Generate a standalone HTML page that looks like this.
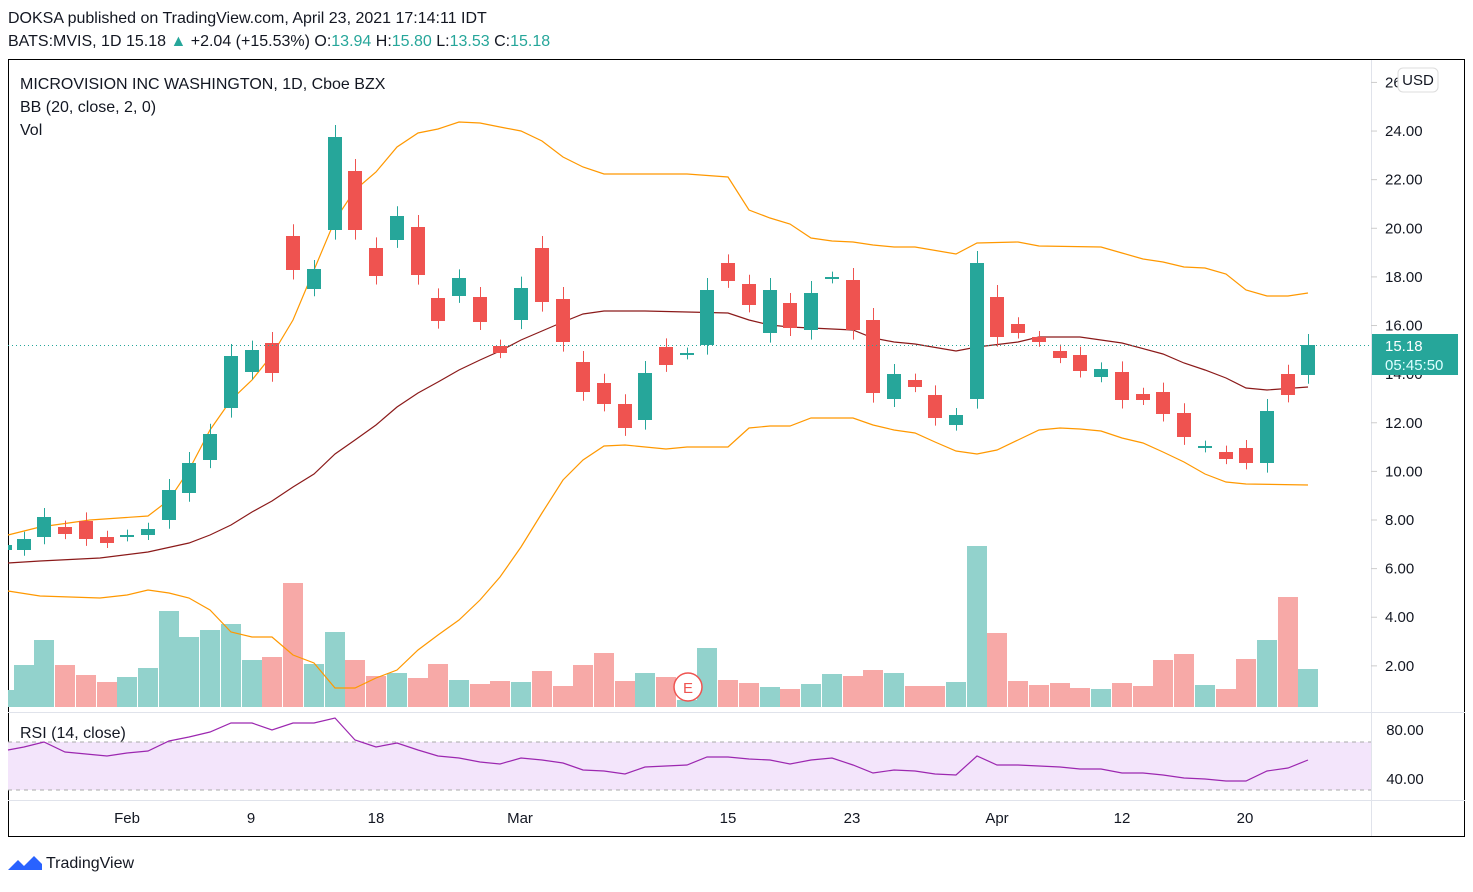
<!DOCTYPE html><html><head><meta charset="utf-8"><style>
body{margin:0;background:#fff;width:1473px;height:887px;overflow:hidden;font-family:"Liberation Sans",sans-serif}
</style></head><body>
<svg id="s" width="1473" height="887" xmlns="http://www.w3.org/2000/svg" font-family="Liberation Sans, sans-serif">
<text x="8" y="23" font-size="16" fill="#131722">DOKSA published on TradingView.com, April 23, 2021 17:14:11 IDT</text>
<text x="8" y="46" font-size="16" fill="#131722">BATS:MVIS, 1D  15.18 <tspan fill="#26a69a">▲</tspan> +2.04 (+15.53%) O:<tspan fill="#26a69a">13.94</tspan> H:<tspan fill="#26a69a">15.80</tspan> L:<tspan fill="#26a69a">13.53</tspan> C:<tspan fill="#26a69a">15.18</tspan></text>
<rect x="8.5" y="59.5" width="1456" height="777" fill="none" stroke="#000"/>
<line x1="1371.5" y1="60" x2="1371.5" y2="836" stroke="#e0e3eb"/>
<line x1="8" y1="712.5" x2="1465" y2="712.5" stroke="#e0e3eb"/>
<line x1="8" y1="800.5" x2="1465" y2="800.5" stroke="#e0e3eb"/>
<rect x="8" y="742" width="1363" height="48" fill="#f3e5fb"/>
<line x1="8" y1="742" x2="1371" y2="742" stroke="#aaa" stroke-dasharray="4,4"/>
<line x1="8" y1="790" x2="1371" y2="790" stroke="#aaa" stroke-dasharray="4,4"/>
<g id="g"></g>
<line x1="8" y1="345.5" x2="1371" y2="345.5" stroke="#26a69a" stroke-dasharray="1,3"/>
<circle cx="688" cy="687" r="14" fill="#fff" stroke="#ef5350" stroke-width="1.5"/>
<text x="688" y="693" font-size="15" fill="#ef5350" text-anchor="middle">E</text>
<g font-size="16" fill="#131722">
<text x="20" y="89">MICROVISION INC WASHINGTON, 1D, Cboe BZX</text>
<text x="20" y="112">BB (20, close, 2, 0)</text>
<text x="20" y="135">Vol</text>
<text x="20" y="738">RSI (14, close)</text>
</g>
<g font-size="15" fill="#131722" id="ax"></g>
<rect x="1398" y="68" width="40" height="24" rx="5" fill="#fff" stroke="#ddd"/>
<text x="1418" y="85" font-size="15" text-anchor="middle" fill="#131722">USD</text>
<rect x="1372" y="334" width="86" height="41" fill="#26a69a"/>
<text x="1385" y="351" font-size="15" fill="#fff">15.18</text>
<text x="1385" y="370" font-size="15" fill="#dff">05:45:50</text>
<g font-size="15" fill="#131722" text-anchor="middle">
<text x="127" y="823">Feb</text><text x="251" y="823">9</text><text x="376" y="823">18</text><text x="520" y="823">Mar</text><text x="728" y="823">15</text><text x="852" y="823">23</text><text x="997" y="823">Apr</text><text x="1122" y="823">12</text><text x="1245" y="823">20</text>
<text x="1405" y="735">80.00</text><text x="1405" y="784">40.00</text>
</g>
<g transform="translate(8,852)"><path d="M0 18 L10 8 L16 14 L26 4 L34 12 L34 18Z" fill="#2962ff"/></g>
<text x="46" y="868" font-size="16" fill="#131722">TradingView</text>
</svg>
<script>
var ns="http://www.w3.org/2000/svg",g=document.getElementById("g");
function el(t,a){var e=document.createElementNS(ns,t);for(var k in a)e.setAttribute(k,a[k]);g.appendChild(e);return e}
var G="#26a69a",R="#ef5350";
var vol=[[8,690,1],[24,665,1],[44,640,1],[65,665,0],[86,675,0],[107,682,0],[127,677,1],[148,668,1],[169,611,1],[189,637,1],[210,630,1],[231,624,1],[252,660,1],[272,657,0],[293,583,0],[314,664,1],[335,632,1],[355,660,0],[376,676,0],[397,673,1],[418,678,0],[438,664,0],[459,680,1],[480,684,0],[500,681,0],[521,682,1],[542,671,0],[563,686,0],[583,665,0],[604,653,0],[625,681,0],[645,673,1],[666,677,0],[687,700,1],[707,648,1],[728,680,0],[749,683,0],[770,687,1],[790,689,0],[811,684,1],[832,674,1],[853,676,0],[873,670,0],[894,673,1],[915,686,0],[935,686,0],[956,682,1],[977,546,1],[997,633,0],[1018,681,0],[1039,685,0],[1060,683,0],[1080,688,0],[1101,689,1],[1122,683,0],[1143,686,0],[1163,660,0],[1184,654,0],[1205,685,1],[1226,689,0],[1246,659,0],[1267,640,1],[1288,597,0],[1308,669,1]];
vol.forEach(function(v){var x0=Math.max(8,v[0]-10);el("rect",{x:x0,y:v[1],width:v[0]+10-x0,height:707-v[1],fill:v[2]?"#92d2cc":"#f7a9a7"})});
function pl(p,c,w){el("polyline",{points:p.map(function(q){return q.join(",")}).join(" "),fill:"none",stroke:c,"stroke-width":w||1.2})}
pl([[8,535],[40,527],[90,520],[148,516],[169,500],[189,470],[210,430],[231,400],[252,380],[272,355],[293,320],[314,270],[335,220],[355,190],[376,172],[397,147],[418,133],[438,129],[459,122],[480,123],[500,127],[521,131],[542,141],[563,157],[583,167],[604,174],[645,174],[687,174],[728,177],[749,210],[770,218],[790,224],[811,238],[832,241],[853,242],[873,245],[894,247],[915,247],[956,254],[977,243],[1018,242],[1039,246],[1101,247],[1122,253],[1143,259],[1163,262],[1184,267],[1205,268],[1226,274],[1246,290],[1267,296],[1288,296],[1308,293]],"#ff9800");
pl([[8,563],[40,561],[100,558],[148,552],[189,543],[210,535],[231,525],[252,512],[272,501],[293,487],[314,474],[335,454],[355,440],[376,425],[397,407],[418,393],[438,382],[459,370],[480,360],[500,351],[521,340],[542,331],[563,322],[583,314],[604,311],[645,311],[687,312],[728,313],[749,320],[770,325],[790,327],[811,328],[853,330],[873,338],[894,342],[915,344],[956,351],[977,347],[1018,342],[1039,337],[1080,337],[1101,340],[1122,343],[1163,354],[1184,363],[1205,370],[1226,378],[1246,388],[1267,390],[1308,387]],"#8b1a1a");
pl([[8,591],[40,596],[100,598],[127,595],[148,590],[169,593],[189,598],[210,610],[231,632],[252,637],[272,637],[293,655],[314,663],[335,688],[355,688],[376,678],[397,670],[418,650],[438,635],[459,620],[480,600],[500,577],[521,547],[542,513],[563,480],[583,460],[604,446],[625,445],[666,449],[687,447],[728,447],[749,428],[770,426],[790,426],[811,418],[853,418],[873,425],[894,430],[915,433],[935,442],[956,451],[977,454],[997,450],[1018,440],[1039,430],[1060,428],[1080,429],[1101,431],[1122,438],[1143,443],[1163,452],[1184,462],[1205,474],[1226,482],[1246,484],[1308,485]],"#ff9800");
var c=[[24,539,550,1],[44,517,537,1],[65,527,534,0],[86,521,539,0],[107,537,543,0],[127,535,537,1],[148,529,535,1],[169,490,520,1],[189,463,493,1],[210,434,460,1],[231,356,408,1],[252,350,372,1],[272,343,373,0],[293,236,270,0],[314,269,289,1],[335,137,230,1],[355,171,230,0],[376,248,276,0],[397,216,240,1],[418,227,275,0],[438,298,321,0],[459,278,296,1],[480,297,322,0],[500,346,353,0],[521,288,320,1],[542,248,302,0],[563,299,342,0],[583,362,392,0],[604,383,404,0],[625,404,428,0],[645,373,420,1],[666,347,365,0],[687,353,355,1],[707,290,345,1],[728,263,281,0],[749,284,305,0],[770,290,333,1],[790,303,328,0],[811,293,330,1],[832,277,279,1],[853,280,330,0],[873,320,393,0],[894,374,399,1],[915,380,387,0],[935,395,418,0],[956,415,425,1],[977,263,399,1],[997,297,337,0],[1018,324,333,0],[1039,337,342,0],[1060,351,358,0],[1080,355,371,0],[1101,369,377,1],[1122,372,400,0],[1143,394,400,0],[1163,392,414,0],[1184,413,437,0],[1205,446,448,1],[1226,452,459,0],[1246,448,463,0],[1267,411,463,1],[1288,374,395,0],[1308,345,375,1]];
c.forEach(function(k,i){var col=k[3]?G:R,h=(k[2]-k[1]),w=Math.min(12,h*0.2+5);
el("line",{x1:k[0]+.5,x2:k[0]+.5,y1:k[1]-w,y2:k[2]+w*.8,stroke:col});
el("rect",{x:k[0]-7,y:k[1],width:14,height:Math.max(2,h),fill:col})});
el("rect",{x:8,y:545,width:4,height:5,fill:G});
pl([[8,750],[24,747],[44,742],[65,752],[86,754],[107,756],[127,753],[148,751],[169,741],[189,737],[210,732],[231,723],[252,723],[272,730],[293,723],[314,723],[335,718],[355,740],[376,747],[397,743],[418,750],[438,756],[459,758],[480,762],[500,764],[521,758],[542,760],[563,763],[583,770],[604,771],[625,774],[645,767],[666,766],[687,765],[707,757],[728,757],[749,759],[770,760],[790,764],[811,760],[832,758],[853,765],[873,773],[894,770],[915,771],[935,774],[956,775],[977,756],[997,765],[1018,765],[1039,766],[1060,767],[1080,769],[1101,769],[1122,773],[1143,773],[1163,775],[1184,778],[1205,779],[1226,781],[1246,781],[1267,771],[1288,768],[1308,760]],"#9c27b0");
var ax=document.getElementById("ax");
for(var p=2;p<=26;p+=2){var y=520-(p-8)*24.31;if(y<70||y>700)continue;
var l=document.createElementNS(ns,"line");l.setAttribute("x1",1371);l.setAttribute("x2",1377);l.setAttribute("y1",y);l.setAttribute("y2",y);l.setAttribute("stroke","#ccc");ax.appendChild(l);
var t=document.createElementNS(ns,"text");t.setAttribute("x",1385);t.setAttribute("y",y+5);t.textContent=p==26?"26":p.toFixed(2);ax.appendChild(t);}
</script>
</body></html>
